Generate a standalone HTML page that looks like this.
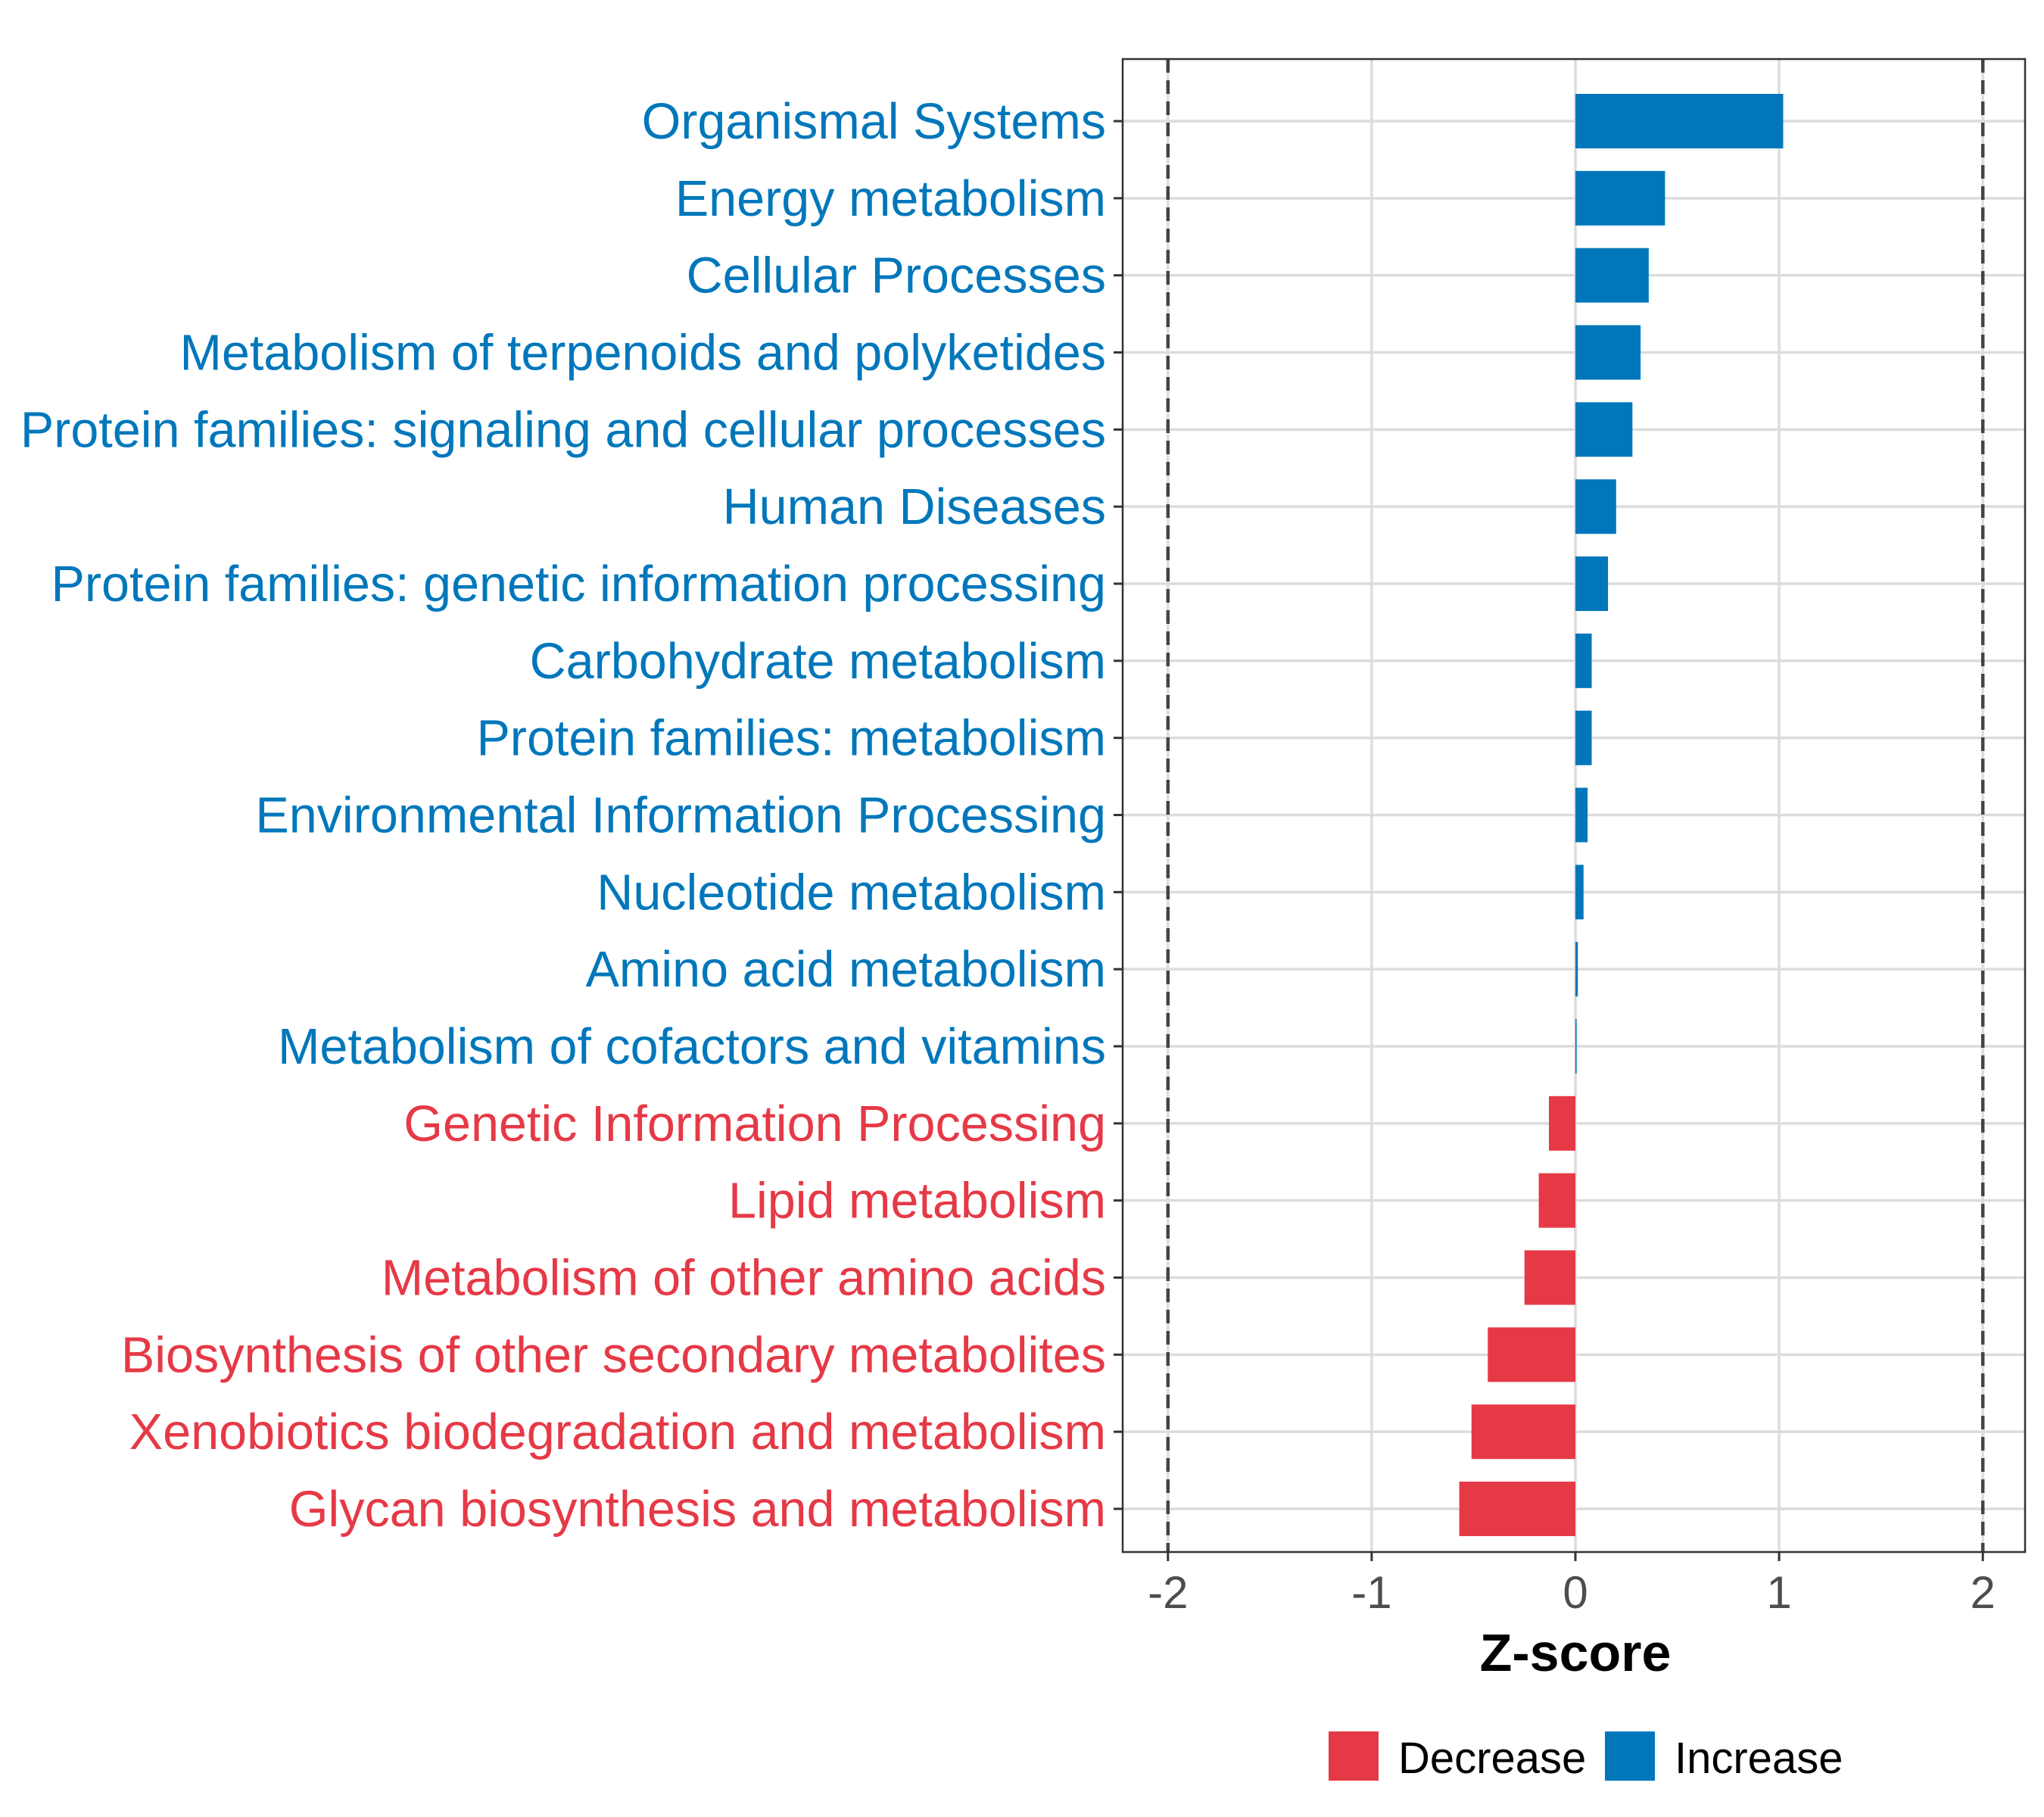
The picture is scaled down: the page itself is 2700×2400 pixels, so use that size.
<!DOCTYPE html>
<html><head><meta charset="utf-8"><style>
html,body{margin:0;padding:0;background:#fff;}
svg{display:block;font-family:"Liberation Sans",Arial,sans-serif;}
</style></head><body>
<svg id="chart" width="2700" height="2400" viewBox="0 0 2700 2400" xmlns="http://www.w3.org/2000/svg">
<g id="grid"></g>
<g id="bars"></g>
<g id="ylabels"></g>
<g id="xaxis"></g>
<text x="2081" y="2207" text-anchor="middle" font-size="70" font-weight="bold" fill="#000">Z-score</text>
<g>
<g>
<rect x="1755" y="2287" width="66" height="65" fill="#E63946"/>
<text x="1847" y="2342" font-size="58" fill="#000">Decrease</text>
</g>
<g>
<rect x="2120" y="2287" width="66" height="65" fill="#0077BB"/>
<text x="2212" y="2342" font-size="58" fill="#000">Increase</text>
</g>
</g>
</svg>
<script>
const categories = ["Organismal Systems","Energy metabolism","Cellular Processes","Metabolism of terpenoids and polyketides","Protein families: signaling and cellular processes","Human Diseases","Protein families: genetic information processing","Carbohydrate metabolism","Protein families: metabolism","Environmental Information Processing","Nucleotide metabolism","Amino acid metabolism","Metabolism of cofactors and vitamins","Genetic Information Processing","Lipid metabolism","Metabolism of other amino acids","Biosynthesis of other secondary metabolites","Xenobiotics biodegradation and metabolism","Glycan biosynthesis and metabolism"];
const zscores = [1.02,0.44,0.36,0.32,0.28,0.20,0.16,0.08,0.08,0.06,0.04,0.012,0.006,-0.13,-0.18,-0.25,-0.43,-0.51,-0.57];
const xTicks = [-2,-1,0,1,2];
const xTickLabels = ["-2","-1","0","1","2"];
const thresholds = [-2,2];

const NS="http://www.w3.org/2000/svg";
const L=1483,R=2675,T=78,B=2050;
const x=v=>2081+v*269.1;
const y=i=>160+i*((1993-160)/(categories.length-1));
const bh=72;
const BLUE="#0077BB",RED="#E63946";
function mk(tag,attrs,parent){const e=document.createElementNS(NS,tag);for(const k in attrs)e.setAttribute(k,attrs[k]);parent.appendChild(e);return e;}
const grid=document.getElementById('grid'),bars=document.getElementById('bars'),yl=document.getElementById('ylabels'),xa=document.getElementById('xaxis');
xTicks.forEach((t,i)=>{
 const g=mk('line',{x1:x(t),x2:x(t),y1:T,y2:B,stroke:'#dcdcdc','stroke-width':3.5},grid);
 
 
 const tk=mk('line',{x1:x(t),x2:x(t),y1:B,y2:B+12,stroke:'#333','stroke-width':3},xa);
 
 
 const tl=mk('text',{x:x(t),y:2124,'text-anchor':'middle','font-size':60,fill:'#4d4d4d'},xa);
 tl.textContent=xTickLabels[i];
 
 
});
categories.forEach((c,i)=>{
 const gl=mk('line',{x1:L,x2:R,y1:y(i),y2:y(i),stroke:'#dcdcdc','stroke-width':3.5},grid);
 
 
});
thresholds.forEach(t=>{
 const d=mk('line',{x1:x(t),x2:x(t),y1:T,y2:B,stroke:'#444','stroke-width':4.5,'stroke-dasharray':'18,10'},grid);
 
 
});
categories.forEach((c,i)=>{
 const v=zscores[i],col=v>=0?BLUE:RED;
 const r=mk('rect',{x:Math.min(x(0),x(v)),y:y(i)-bh/2,width:Math.max(Math.abs(x(v)-x(0)),1.5),height:bh,fill:col},bars);
 
 
 const tk=mk('line',{x1:L-12,x2:L,y1:y(i),y2:y(i),stroke:'#333','stroke-width':3},yl);
 
 
 const t=mk('text',{x:1461,y:y(i)+23,'text-anchor':'end','font-size':66.5,fill:col},yl);
 t.textContent=c;
 
 
});
const fr=mk('rect',{x:L,y:T,width:R-L,height:B-T,fill:'none',stroke:'#333','stroke-width':2.5},document.getElementById('chart'));


</script>
</body></html>
